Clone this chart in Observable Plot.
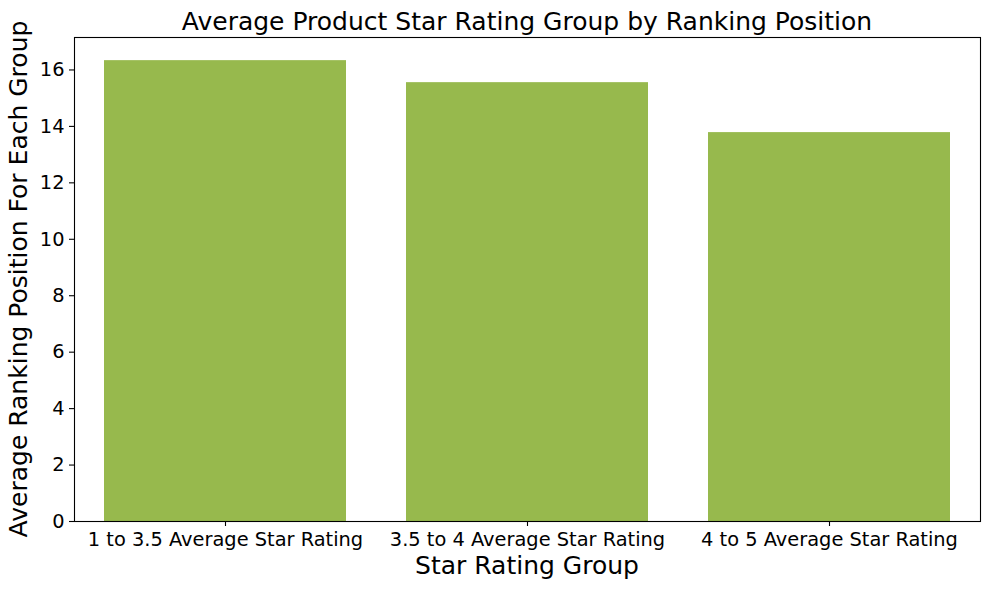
<!DOCTYPE html>
<html>
<head>
<meta charset="utf-8">
<script src="https://cdn.jsdelivr.net/npm/d3@7"></script>
<script src="https://cdn.jsdelivr.net/npm/@observablehq/plot@0.6"></script>
<style>
  html, body { margin: 0; padding: 0; background: white; }
  svg { display: block; }
</style>
</head>
<body>
<div id="chart"></div>
<script>
const categories = ["1 to 3.5 Average Star Rating", "3.5 to 4 Average Star Rating", "4 to 5 Average Star Rating"];
const values = [16.33, 15.55, 13.78];
const yTicks = [0, 2, 4, 6, 8, 10, 12, 14, 16];
const title = "Average Product Star Rating Group by Ranking Position";
const xLabel = "Star Rating Group";
const yLabel = "Average Ranking Position For Each Group";

const data = categories.map((c, i) => ({cat: c, val: values[i]}));

const W = 989, H = 589;
const mL = 74, mR = 9, mT = 37, mB = 68;

const chart = Plot.plot({
  width: W,
  height: H,
  marginLeft: mL,
  marginRight: mR,
  marginTop: mT,
  marginBottom: mB,
  style: {fontFamily: "DejaVu Sans", fontSize: "19.4px", color: "black", background: "white", overflow: "visible"},
  x: {domain: categories, paddingInner: 0.2, paddingOuter: 0.1, label: null},
  y: {domain: [0, 17.15], label: null},
  marks: [
    Plot.barY(data, {x: "cat", y: "val", fill: "#97b94d"}),
    Plot.axisX({tickSize: 5, tickPadding: 6, fontSize: 19.4, label: null, strokeWidth: 1.1}),
    Plot.axisY({ticks: yTicks, tickSize: 5, tickPadding: 5, fontSize: 19.4, label: null, tickFormat: d => String(d), strokeWidth: 1.1}),
    Plot.frame({stroke: "black", strokeWidth: 1.1})
  ]
});

const svg = d3.select(chart);
const cx = mL + (W - mL - mR) / 2;
svg.append("text")
  .attr("x", cx).attr("y", 30)
  .attr("text-anchor", "middle")
  .attr("font-family", "DejaVu Sans").attr("font-size", "25px").attr("fill", "black")
  .text(title);
svg.append("text")
  .attr("x", cx).attr("y", 574)
  .attr("text-anchor", "middle")
  .attr("font-family", "DejaVu Sans").attr("font-size", "25px").attr("fill", "black")
  .text(xLabel);
svg.append("text")
  .attr("transform", `translate(27,${mT + (H - mT - mB) / 2}) rotate(-90)`)
  .attr("text-anchor", "middle")
  .attr("font-family", "DejaVu Sans").attr("font-size", "25px").attr("fill", "black")
  .text(yLabel);

document.getElementById("chart").appendChild(chart);
</script>
</body>
</html>
